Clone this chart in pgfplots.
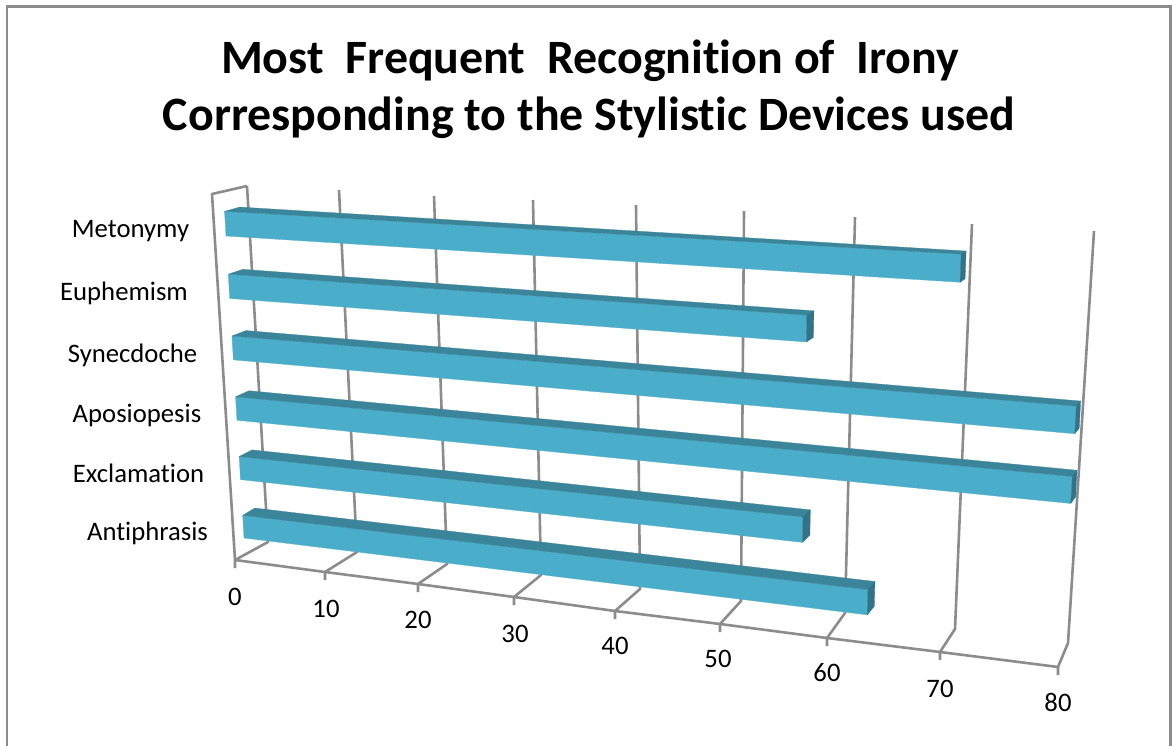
\documentclass[border=0pt]{standalone}
\usepackage{fontspec}
\setmainfont{Carlito}[Ligatures={NoCommon}]
\usepackage{pgfplots}
\pgfplotsset{compat=1.18}

\definecolor{barfront}{HTML}{4AADC9}
\definecolor{bartop}{HTML}{3A8599}
\definecolor{barend}{HTML}{31748A}
\definecolor{gridgray}{HTML}{8C8C8C}

% Projection of (value, row, height flag, depth flag) onto the drawing plane
\newcommand\uu{(\thisrow{v}/80)}
\newcommand\ww{((\thisrow{r}+0.39*\thisrow{k})/5)}
\newcommand\dn{(1-0.14102*\uu-0.04105*\ww)}
\newcommand\px{((669.1*\uu-27.28*\ww+244)/\dn+\thisrow{d}*(12-6.3*\uu+3*\ww-5.1*\uu*\ww))}
\newcommand\py{((10.89*\uu-311.69*\ww+538)/\dn+\thisrow{d}*(-7.5-1.27*\uu+3*\ww+2.41*\uu*\ww))}

% One bar: front, top and end faces for a value (#1) in a row (#2)
\newcommand\devicebar[2]{%
  \addplot[fill=barfront,draw=barfront,line width=0.3pt] table[row sep=\\,x expr={\px},y expr={\py}]{
    v r k d\\ 0 #2 0 0\\ #1 #2 0 0\\ #1 #2 1 0\\ 0 #2 1 0\\ 0 #2 0 0\\};
  \addplot[fill=bartop,draw=bartop,line width=0.3pt] table[row sep=\\,x expr={\px},y expr={\py}]{
    v r k d\\ 0 #2 1 0\\ #1 #2 1 0\\ #1 #2 1 1\\ 0 #2 1 1\\ 0 #2 1 0\\};
  \addplot[fill=barend,draw=barend,line width=0.3pt] table[row sep=\\,x expr={\px},y expr={\py}]{
    v r k d\\ #1 #2 0 0\\ #1 #2 1 0\\ #1 #2 1 1\\ #1 #2 0 1\\ #1 #2 0 0\\};
}
% Wall line, floor line and tick of one gridline
\newcommand\gridline[6]{%
  \addplot[gridgray,line width=2.6pt,line join=round] coordinates {(#1,#2) (#3,#4) (#5,#6) (#5,#6+8)};
}
\newcommand\catlabel[3]{\node[anchor=base,font=\fontsize{26.7}{26.7}\selectfont] at (axis cs:#1,#2) {#3};}

\begin{document}
\begin{tikzpicture}
\begin{axis}[
  scale only axis,width=1172pt,height=746pt,
  xmin=0,xmax=1172,ymin=0,ymax=746,y dir=reverse,
  hide axis,no markers,
]
% chart frame
\addplot[gridgray,line width=2.5pt] coordinates {(7,746) (7,6.5) (1170.5,6.5) (1170.5,746)};

% side wall edge
\addplot[gridgray,line width=2.6pt,line join=round] coordinates {(235,560) (212,194) (247,186)};
% wall, floor and tick for 0 to 80
\gridline{247}{186}{268}{542}{235}{560}
\gridline{339}{190}{357}{552}{325}{572}
\gridline{434}{196}{447}{564}{418}{584}
\gridline{533}{200}{541}{575}{514}{597}
\gridline{636}{205}{640}{589}{615}{611}
\gridline{744}{211}{741}{601}{720}{624}
\gridline{855}{217}{845}{613}{827}{638}
\gridline{972}{224}{955}{629}{940}{652}
\gridline{1094}{231}{1068}{643}{1058}{667}
% front floor edge
\addplot[gridgray,line width=2.6pt] coordinates {(235,560) (325,572) (418,584) (514,597) (615,611) (720,624) (827,638) (940,652) (1058,667)};

% bars: value, row
\devicebar{70}{5}
\devicebar{57}{4}
\devicebar{80}{3}
\devicebar{80}{2}
\devicebar{57}{1}
\devicebar{63}{0}

% category names
\catlabel{130.5}{237.5}{Metonymy}
\catlabel{124}{300}{Euphemism}
\catlabel{132.5}{362}{Synecdoche}
\catlabel{137}{422.5}{Aposiopesis}
\catlabel{138.5}{482}{Exclamation}
\catlabel{147.5}{540.5}{Antiphrasis}

% value labels
\catlabel{235}{605}{0}
\catlabel{326}{617}{10}
\catlabel{418}{628}{20}
\catlabel{515}{642}{30}
\catlabel{615}{654}{40}
\catlabel{718}{667}{50}
\catlabel{827}{681}{60}
\catlabel{940}{697}{70}
\catlabel{1058}{711}{80}

% title
\node[anchor=base,font=\fontsize{47.9}{47.9}\selectfont\bfseries] at (axis cs:590,74) {Most\ \ Frequent\ \ Recognition of\ \ Irony};
\node[anchor=base,font=\fontsize{47.9}{47.9}\selectfont\bfseries] at (axis cs:589,131) {Corresponding to the Stylistic Devices used};
\end{axis}
% page size is the plot box itself
\pgfresetboundingbox
\useasboundingbox (current axis.south west) rectangle (current axis.north east);
\end{tikzpicture}
\end{document}
